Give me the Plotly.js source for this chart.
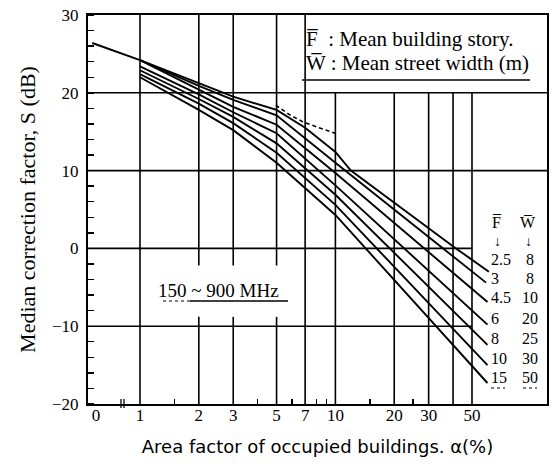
<!DOCTYPE html>
<html><head><meta charset="utf-8">
<script src="https://cdn.plot.ly/plotly-3.0.1.min.js"></script>
<style>html,body{margin:0;padding:0;background:#fff;}#chart{width:555px;height:464px;}</style>
</head><body><div id="chart"></div>
<script>
// ---- data ----
const commonA = [0.57, 1];
const commonS = [26.4, 24.2];
const curveF = ['2.5', '3', '4.5', '6', '8', '10', '15'];
const curveW = ['8', '8', '10', '20', '25', '30', '50'];
const c1A = [1, 2, 3, 5, 7, 10, 12, 41.4, 61];
const c1S = [24.2, 21.3, 19.5, 17.8, 15.5, 12.4, 10.0, 0.0, -3.0];
const c2A = [1, 2, 3, 5, 10, 59];
const c2S = [24.2, 20.9, 19.1, 17.1, 11.0, -4.4];
const c3A = [1, 2, 3, 5, 10, 60];
const c3S = [24.2, 20.4, 18.2, 15.9, 9.7, -6.9];
const c4A = [1, 2, 3, 5, 10, 60];
const c4S = [23.4, 19.8, 17.5, 14.8, 8.1, -9.8];
const c5A = [1, 2, 3, 5, 10, 60];
const c5S = [22.9, 19.2, 16.9, 13.5, 6.9, -12.4];
const c6A = [1, 2, 3, 5, 10, 60];
const c6S = [22.4, 18.6, 16.1, 12.3, 5.6, -15.0];
const c7A = [1, 2, 3, 5, 10, 60];
const c7S = [22.0, 17.8, 15.2, 11.0, 4.3, -17.3];
const dashA = [4.95, 5.9, 6.9, 8.05, 9.95];
const dashS = [18.4, 17.1, 16.2, 15.6, 14.8];
const xTickVals = [0.595, 1, 2, 3, 5, 7, 10, 20, 30, 50];
const xTickText = ['0', '1', '2', '3', '5', '7', '10', '20', '30', '50'];
const xMinor = [1.5, 4, 6, 8, 9, 15, 25];
const yTickVals = [-20, -10, 0, 10, 20, 30];
const yTickText = ['\u221220', '\u221210', '0', '10', '20', '30'];
const fullGridX = [1, 7];
const splitGridX = [2, 3, 5];
const lowerGridX = [10, 20, 30, 40, 50];
const title = '150 ~ 900 MHz';

const curvesA = [c1A, c2A, c3A, c4A, c5A, c6A, c7A];
const curvesS = [c1S, c2S, c3S, c4S, c5S, c6S, c7S];

const serif = '"Liberation Serif", "DejaVu Serif", serif';
const line = {color: '#000', width: 1.9};
const traces = [];
traces.push({x: commonA, y: commonS, mode: 'lines', line: line, hoverinfo: 'skip'});
for (let i = 0; i < curvesA.length; i++) {
  traces.push({x: curvesA[i], y: curvesS[i], mode: 'lines', line: line, hoverinfo: 'skip'});
}
traces.push({x: dashA, y: dashS, mode: 'lines', line: {color: '#000', width: 1.6, dash: '4px,3px'}, hoverinfo: 'skip'});

const g = {color: '#000', width: 1.6};
const shapes = [];
fullGridX.forEach(v => shapes.push({type: 'line', xref: 'x', yref: 'y', x0: v, x1: v, y0: -20, y1: 30, line: g, layer: 'below'}));
splitGridX.forEach(v => {
  shapes.push({type: 'line', xref: 'x', yref: 'y', x0: v, x1: v, y0: -20, y1: -8.8, line: g, layer: 'below'});
  shapes.push({type: 'line', xref: 'x', yref: 'y', x0: v, x1: v, y0: -2.2, y1: 30, line: g, layer: 'below'});
});
lowerGridX.forEach(v => shapes.push({type: 'line', xref: 'x', yref: 'y', x0: v, x1: v, y0: -20, y1: 20, line: g, layer: 'below'}));
[20, 10].forEach(v => shapes.push({type: 'line', xref: 'paper', yref: 'y', x0: 0, x1: 1, y0: v, y1: v, line: g, layer: 'below'}));
[0, -10].forEach(v => shapes.push({type: 'line', xref: 'x', yref: 'y', x0: 0.542, x1: 50, y0: v, y1: v, line: g, layer: 'below'}));

// decorations in paper space
const P = (px) => (px - 88) / 459;
const Q = (py) => (404 - py) / 389;
shapes.push({type: 'line', xref: 'paper', yref: 'paper', x0: P(302), x1: P(530), y0: Q(80), y1: Q(80), line: {color: '#000', width: 1.4}});
shapes.push({type: 'line', xref: 'paper', yref: 'paper', x0: P(163), x1: P(190), y0: Q(301), y1: Q(301), line: {color: '#000', width: 1, dash: 'dot'}});
shapes.push({type: 'line', xref: 'paper', yref: 'paper', x0: P(190), x1: P(288), y0: Q(301), y1: Q(301), line: {color: '#000', width: 1.4}});
shapes.push({type: 'line', xref: 'paper', yref: 'paper', x0: P(121), x1: P(121), y0: Q(399), y1: Q(408), line: {color: '#000', width: 1.3}});
shapes.push({type: 'line', xref: 'paper', yref: 'paper', x0: P(124), x1: P(124), y0: Q(399), y1: Q(408), line: {color: '#000', width: 1.3}});
shapes.push({type: 'line', xref: 'paper', yref: 'paper', x0: P(491), x1: P(505), y0: Q(388), y1: Q(388), line: {color: '#000', width: 1, dash: 'dot'}});
shapes.push({type: 'line', xref: 'paper', yref: 'paper', x0: P(523), x1: P(537), y0: Q(388), y1: Q(388), line: {color: '#000', width: 1, dash: 'dot'}});

const ann = [];
ann.push({xref: 'paper', yref: 'paper', x: P(304), y: Q(39), xanchor: 'left', yanchor: 'middle', showarrow: false,
  text: 'F\u0305  : Mean building story.', font: {family: serif, size: 21, color: '#000'}});
ann.push({xref: 'paper', yref: 'paper', x: P(304), y: Q(63), xanchor: 'left', yanchor: 'middle', showarrow: false,
  text: 'W\u0305 : Mean street width (m)', font: {family: serif, size: 21, color: '#000'}});
ann.push({xref: 'paper', yref: 'paper', x: P(218), y: Q(290), xanchor: 'center', yanchor: 'middle', showarrow: false,
  text: title, font: {family: serif, size: 19, color: '#000'}});
ann.push({xref: 'paper', yref: 'paper', x: P(497), y: Q(222), xanchor: 'center', yanchor: 'middle', showarrow: false,
  text: 'F\u0305', font: {family: serif, size: 16, color: '#000'}});
ann.push({xref: 'paper', yref: 'paper', x: P(528), y: Q(222), xanchor: 'center', yanchor: 'middle', showarrow: false,
  text: 'W\u0305', font: {family: serif, size: 16, color: '#000'}});
ann.push({xref: 'paper', yref: 'paper', x: P(497), y: Q(241), xanchor: 'center', yanchor: 'middle', showarrow: false,
  text: '\u2193', font: {family: serif, size: 14, color: '#000'}});
ann.push({xref: 'paper', yref: 'paper', x: P(528), y: Q(241), xanchor: 'center', yanchor: 'middle', showarrow: false,
  text: '\u2193', font: {family: serif, size: 14, color: '#000'}});
const rowY = [259, 278, 297, 318, 338, 358, 377];
for (let i = 0; i < curveF.length; i++) {
  ann.push({xref: 'paper', yref: 'paper', x: P(489), y: Q(rowY[i]), xanchor: 'left', yanchor: 'middle', showarrow: false,
    text: curveF[i], font: {family: serif, size: 16, color: '#000'}});
  ann.push({xref: 'paper', yref: 'paper', x: P(530), y: Q(rowY[i]), xanchor: 'center', yanchor: 'middle', showarrow: false,
    text: curveW[i], font: {family: serif, size: 16, color: '#000'}});
}

const layout = {
  width: 555, height: 464,
  margin: {l: 88, r: 8, t: 15, b: 60},
  paper_bgcolor: '#fff', plot_bgcolor: '#fff',
  showlegend: false,
  xaxis: {
    type: 'log', range: [Math.log10(0.542), Math.log10(121)],
    tickvals: xTickVals, ticktext: xTickText, ticks: '', showgrid: false, zeroline: false,
    showline: true, mirror: true, linecolor: '#000', linewidth: 2,
    tickfont: {family: serif, size: 17, color: '#000'}, ticklabelstandoff: -5,
    minor: {tickvals: xMinor, ticks: 'inside', ticklen: 5, tickwidth: 1.4, tickcolor: '#000', showgrid: false},
    title: {text: 'Area factor of occupied buildings. \u03b1(%)', font: {family: '"DejaVu Sans", sans-serif', size: 18, color: '#000'}, standoff: 16}
  },
  yaxis: {
    range: [-20, 30], tickvals: yTickVals, ticktext: yTickText, ticks: '', showgrid: false, zeroline: false,
    showline: true, mirror: true, linecolor: '#000', linewidth: 2,
    tickfont: {family: serif, size: 17, color: '#000'}, ticklabelstandoff: 4,
    minor: {dtick: 2, ticks: 'inside', ticklen: 6, tickwidth: 1.4, tickcolor: '#000', showgrid: false},
    title: {text: 'Median correction factor, S (dB)', font: {family: serif, size: 22, color: '#000'}, standoff: 10}
  },
  shapes: shapes,
  annotations: ann
};
Plotly.newPlot('chart', traces, layout, {staticPlot: true, displayModeBar: false});
</script></body></html>
